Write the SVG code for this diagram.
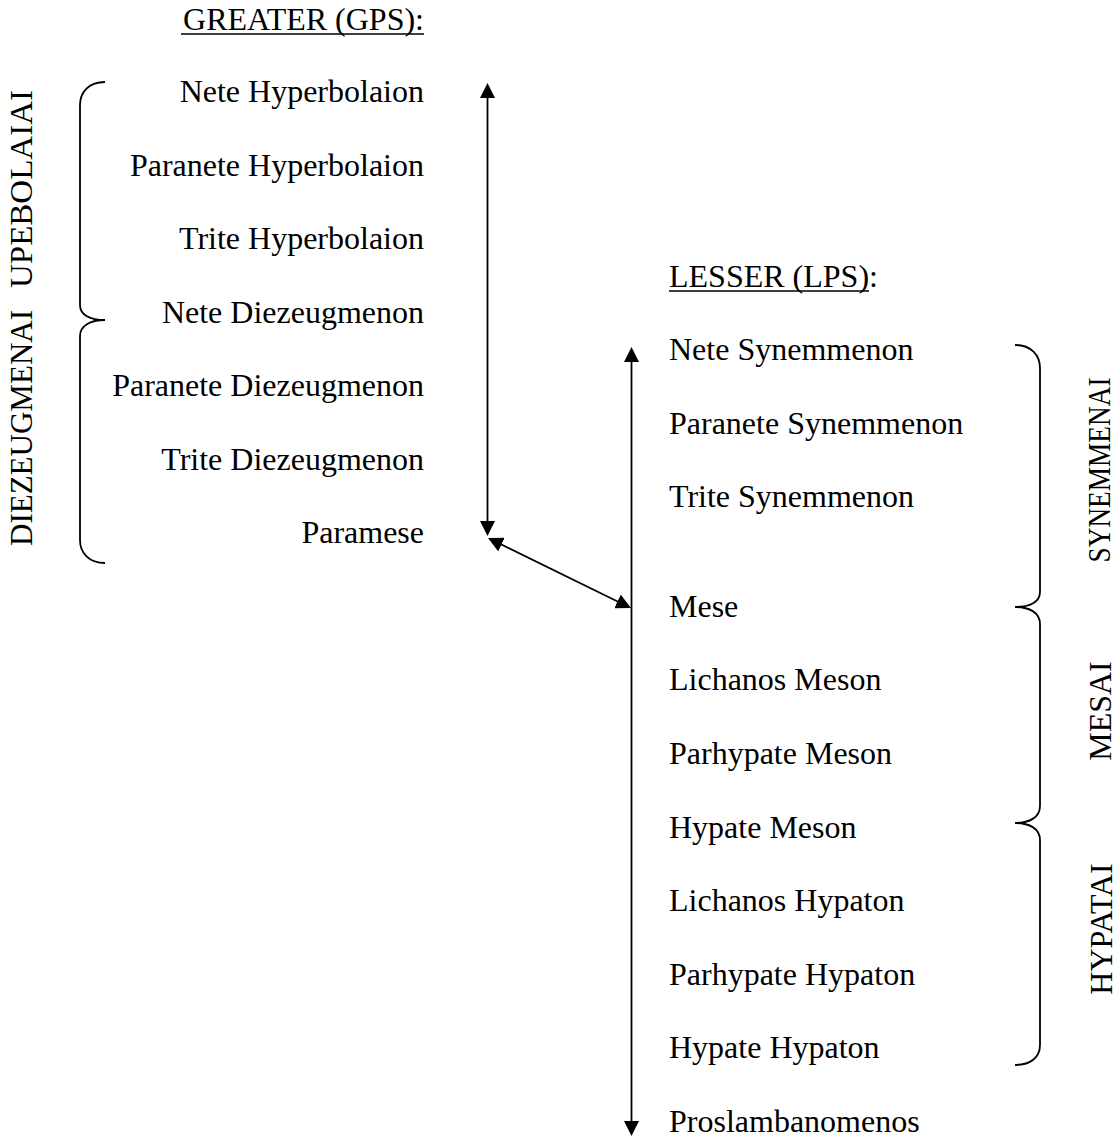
<svg xmlns="http://www.w3.org/2000/svg" width="1118" height="1140" viewBox="0 0 1118 1140">
<style>
text { font-family: "Liberation Serif", "Times New Roman", serif; font-size: 32px; fill: #000; }
.l { text-anchor: end; }
.r { text-anchor: start; }
.v { text-anchor: middle; }
.ln { stroke: #000; stroke-width: 1.8; fill: none; }
.ul { stroke: #000; stroke-width: 1.6; }
.br { stroke: #000; stroke-width: 1.8; fill: none; }
</style>
<defs>
<marker id="ah" viewBox="0 0 15 15" refX="12" refY="7.5" markerWidth="15" markerHeight="15" markerUnits="userSpaceOnUse" orient="auto-start-reverse">
<path d="M0,0 L15,7.5 L0,15 z" fill="#000"/>
</marker>
</defs>
<rect width="1118" height="1140" fill="#fff"/>

<g id="heading-greater">
<text class="l" x="424" y="30">GREATER (GPS):</text>
<line class="ul" x1="181" y1="34" x2="424" y2="34"/>
</g>
<g id="heading-lesser">
<text class="r" x="669" y="287">LESSER (LPS):</text>
<line class="ul" x1="669" y1="291" x2="869" y2="291"/>
</g>

<g id="greater-notes">
<g id="n-nete-hyperbolaion"><text class="l" x="424" y="102">Nete Hyperbolaion</text></g>
<g id="n-paranete-hyperbolaion"><text class="l" x="424" y="176">Paranete Hyperbolaion</text></g>
<g id="n-trite-hyperbolaion"><text class="l" x="424" y="249">Trite Hyperbolaion</text></g>
<g id="n-nete-diezeugmenon"><text class="l" x="424" y="323">Nete Diezeugmenon</text></g>
<g id="n-paranete-diezeugmenon"><text class="l" x="424" y="396">Paranete Diezeugmenon</text></g>
<g id="n-trite-diezeugmenon"><text class="l" x="424" y="470">Trite Diezeugmenon</text></g>
<g id="n-paramese"><text class="l" x="424" y="543">Paramese</text></g>
</g>

<g id="lesser-notes">
<g id="n-nete-synemmenon"><text class="r" x="669" y="360">Nete Synemmenon</text></g>
<g id="n-paranete-synemmenon"><text class="r" x="669" y="434">Paranete Synemmenon</text></g>
<g id="n-trite-synemmenon"><text class="r" x="669" y="507">Trite Synemmenon</text></g>
<g id="n-mese"><text class="r" x="669" y="617">Mese</text></g>
<g id="n-lichanos-meson"><text class="r" x="669" y="690">Lichanos Meson</text></g>
<g id="n-parhypate-meson"><text class="r" x="669" y="764">Parhypate Meson</text></g>
<g id="n-hypate-meson"><text class="r" x="669" y="838">Hypate Meson</text></g>
<g id="n-lichanos-hypaton"><text class="r" x="669" y="911">Lichanos Hypaton</text></g>
<g id="n-parhypate-hypaton"><text class="r" x="669" y="985">Parhypate Hypaton</text></g>
<g id="n-hypate-hypaton"><text class="r" x="669" y="1058">Hypate Hypaton</text></g>
<g id="n-proslambanomenos"><text class="r" x="669" y="1132">Proslambanomenos</text></g>
</g>

<g id="tetrachord-braces">
<g id="brace-upebolaiai">
<path class="br" d="M105,82 C89,82 80,92 80,105 L80,305 C80,315 90,320 105,320"/>
<text class="v" transform="translate(32,189) rotate(-90)" textLength="198" lengthAdjust="spacingAndGlyphs">UPEBOLAIAI</text>
</g>
<g id="brace-diezeugmenai">
<path class="br" d="M105,320 C90,320 80,326 80,336 L80,540 C80,553 89,563 105,563"/>
<text class="v" transform="translate(32,428) rotate(-90)" textLength="236" lengthAdjust="spacingAndGlyphs">DIEZEUGMENAI</text>
</g>
<g id="brace-synemmenai">
<path class="br" d="M1015,345 C1031,345 1040,355 1040,368 L1040,592 C1040,602 1030,607 1015,607"/>
<text class="v" transform="translate(1110,470) rotate(-90)" textLength="185" lengthAdjust="spacingAndGlyphs">SYNEMMENAI</text>
</g>
<g id="brace-mesai">
<path class="br" d="M1015,607 C1030,607 1040,613 1040,624 L1040,806 C1040,817 1030,823 1015,823"/>
<text class="v" transform="translate(1111,711) rotate(-90)">MESAI</text>
</g>
<g id="brace-hypatai">
<path class="br" d="M1015,823 C1030,823 1040,829 1040,840 L1040,1045 C1040,1057 1031,1065 1015,1065"/>
<text class="v" transform="translate(1112,929) rotate(-90)">HYPATAI</text>
</g>
</g>

<g id="connectors">
<line class="ln" x1="487.5" y1="86" x2="487.5" y2="533" marker-start="url(#ah)" marker-end="url(#ah)"/>
<line class="ln" x1="631.5" y1="350" x2="631.5" y2="1133" marker-start="url(#ah)" marker-end="url(#ah)"/>
<line class="ln" x1="490.7" y1="539.3" x2="628.3" y2="606.7" marker-start="url(#ah)" marker-end="url(#ah)"/>
</g>
</svg>
